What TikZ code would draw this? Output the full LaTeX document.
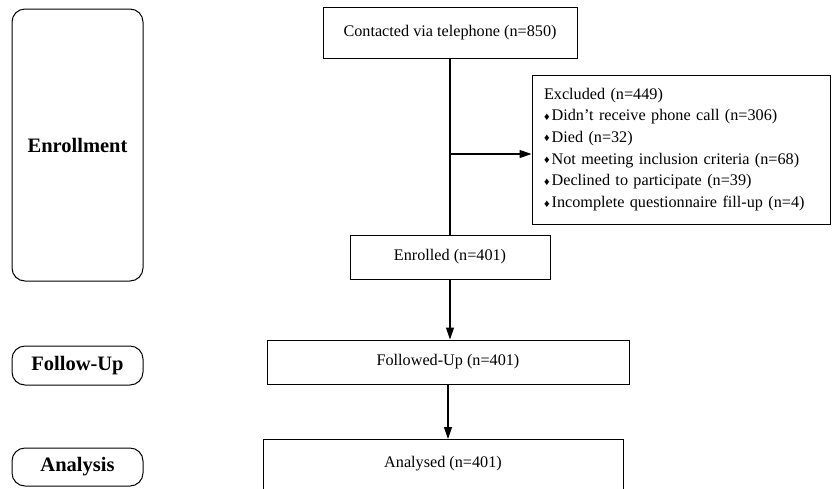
\documentclass[tikz,border=0pt]{standalone}
\usepackage{fontspec}
\setmainfont{Liberation Serif}
\usetikzlibrary{arrows.meta}
\newcommand{\exitem}{\raisebox{0.6pt}{\fontsize{11}{11}\selectfont ♦}\hspace{2pt}}

\begin{document}
\begin{tikzpicture}[x=1pt, y=-1pt,
    box/.style = {draw, line width=1pt, inner sep=0pt, font=\fontsize{16.2}{20}\selectfont},
    stage/.style = {draw, line width=1pt, rounded corners=13pt, minimum width=131pt,
        inner sep=0pt, font=\fontsize{20.5}{24}\selectfont\bfseries},
    arrow/.style = {line width=1.2pt, -{Triangle[length=12pt, width=8pt]}}]
    \useasboundingbox (0,0) rectangle (832,488);
    % stages
    \node[stage, minimum height=272pt] (enrollment) at (77.5,145) {Enrollment};
    \node[stage, minimum height=39pt] (followup) at (77.5,365.5) {Follow-Up};
    \node[stage, minimum height=38pt] (analysis) at (77.5,467) {Analysis};
    % flow
    \node[box, minimum width=254pt, minimum height=51pt] (contacted) at (450,32.5) {Contacted via telephone (n=850)};
    \node[box, minimum height=149pt, text width=274pt, inner xsep=12pt, align=left,
        font=\fontsize{16.2}{21.7}\selectfont] (excluded) at (681,149.5)
        {Excluded (n=449)\\
         \exitem Didn’t receive phone call (n=306)\\
         \exitem Died (n=32)\\
         \exitem Not meeting inclusion criteria (n=68)\\
         \exitem Declined to participate (n=39)\\
         \exitem Incomplete questionnaire fill-up (n=4)};
    \node[box, minimum width=200pt, minimum height=44pt] (enrolled) at (450,257) {Enrolled (n=401)};
    \node[box, minimum width=362pt, minimum height=44pt] (followed) at (448,362) {Followed-Up (n=401)};
    \node[box, minimum width=360pt, anchor=north, text height=28pt, text depth=32pt] (analysed) at (443,439) {Analysed (n=401)};
    \coordinate (split) at (450,154);
    % connectors
    \draw[line width=1.2pt] (contacted.south) -- (enrolled.north);
    \draw[arrow] (split) -- (split -| excluded.west);
    \draw[arrow] (enrolled.south) -- (enrolled.south |- followed.north);
    \draw[arrow] (followed.south) -- (followed.south |- analysed.north);
\end{tikzpicture}
\end{document}
